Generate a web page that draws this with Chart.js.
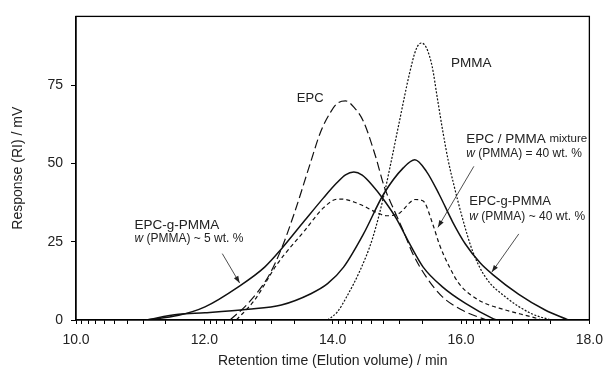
<!DOCTYPE html>
<html>
<head>
<meta charset="utf-8">
<script src="https://cdn.jsdelivr.net/npm/chart.js@4.4.0/dist/chart.umd.min.js"></script>
<style>
body{margin:0;background:#fff;}
#wrap{width:611px;height:370px;}
</style>
</head>
<body>
<div id="wrap"><canvas id="chart" width="611" height="370"></canvas></div>
<script>
// retention time (min) / response (mV)
const pmmaT = [13.92, 14.07, 14.22, 14.43, 14.62, 14.80, 14.92, 15.04, 15.20, 15.30, 15.38, 15.46, 15.55, 15.63, 15.71, 15.80, 15.89, 16.02, 16.18, 16.38, 16.69, 17.10, 17.40];
const pmmaR = [0, 2.5, 7.5, 16, 26, 40, 51.5, 63.5, 79, 86.5, 88.5, 87, 81, 71, 61, 51, 43, 32.7, 22, 13.7, 7.4, 2, 0];

const epcT = [12.40, 12.68, 13.00, 13.20, 13.40, 13.65, 13.81, 13.97, 14.07, 14.20, 14.33, 14.48, 14.66, 14.81, 14.94, 15.10, 15.25, 15.46, 15.71, 16.07, 16.40];
const epcR = [0, 5.3, 14, 22.7, 34, 50, 60, 66.5, 69.2, 70, 68, 63.4, 52.8, 42.2, 35.9, 28.5, 21.1, 13.7, 7.4, 2.6, 0];

const mixT = [12.50, 12.78, 13.14, 13.56, 13.86, 14.07, 14.15, 14.43, 14.69, 14.84, 15.05, 15.20, 15.28, 15.41, 15.56, 15.66, 15.82, 15.97, 16.28, 16.69, 17.10, 17.26];
const mixR = [0, 6.3, 18, 28.5, 35.9, 38.6, 38.6, 36.9, 34.3, 33.3, 34.3, 37.5, 38.5, 38, 30.6, 24.3, 16.9, 11.6, 6.3, 3.2, 1, 0];

const g5T = [11.09, 11.60, 12.01, 12.53, 12.94, 13.20, 13.56, 13.86, 14.05, 14.20, 14.33, 14.46, 14.62, 14.79, 14.99, 15.20, 15.41, 15.71, 16.07, 16.49, 16.55];
const g5R = [0, 1.5, 4.2, 10.6, 16.9, 22.7, 31.7, 39.1, 43.5, 46.4, 47.3, 46.3, 43, 38.6, 32.5, 24.3, 16.9, 10.6, 5.3, 0.5, 0];

const g40T = [11.09, 11.60, 12.01, 12.68, 13.20, 13.66, 13.92, 14.17, 14.48, 14.79, 15.10, 15.28, 15.46, 15.66, 15.87, 16.07, 16.30, 16.49, 16.90, 17.31, 17.67];
const g40R = [0, 1.8, 2.3, 3.4, 4.8, 8.4, 11.6, 16.9, 27.5, 40.1, 48.6, 51.2, 47.5, 40.1, 31.3, 24.2, 18.2, 14.6, 8.2, 3.2, 0];

const xMajor = [10, 12, 14, 16, 18];
const xLabels = ['10.0', '12.0', '14.0', '16.0', '18.0'];
const yTicks = [0, 25, 50, 75];

const FONT = '"Liberation Sans", Arial, sans-serif';
const INK = '#222';

function pts(t, r) {
    return t.map((v, i) => ({x: v, y: r[i]}));
}

function line(t, r, dash, w) {
    return {
        data: pts(t, r),
        borderColor: '#111',
        borderWidth: w,
        borderDash: dash,
        pointRadius: 0,
        fill: false,
        cubicInterpolationMode: 'monotone'
    };
}

// labels in data units; parts = [text, size, italic]
const notes = [
    {x: 13.65, y: 70.7, align: 'center', parts: [['EPC', 13, false]]},
    {x: 16.16, y: 82.1, align: 'center', parts: [['PMMA', 13.5, false]]},
    {x: 16.08, y: 57.8, align: 'left', parts: [['EPC / PMMA ', 13.5, false], ['mixture', 11.5, false]]},
    {x: 16.08, y: 53.2, align: 'left', parts: [['w', 12, true], [' (PMMA) = 40 wt. %', 12, false]]},
    {x: 16.13, y: 38.0, align: 'left', parts: [['EPC-g-PMMA', 13, false]]},
    {x: 16.13, y: 33.0, align: 'left', parts: [['w', 12, true], [' (PMMA) ~ 40 wt. %', 12, false]]},
    {x: 10.91, y: 30.4, align: 'left', parts: [['EPC-g-PMMA', 13.5, false]]},
    {x: 10.91, y: 26.0, align: 'left', parts: [['w', 12, true], [' (PMMA) ~ 5 wt. %', 12, false]]}
];
const arrows = [
    [12.28, 21.2, 12.55, 11.8],
    [16.20, 49.1, 15.64, 29.6],
    [16.90, 27.5, 16.48, 15.3]
];

const notesPlugin = {
    id: 'notes',
    afterDatasetsDraw(c) {
        const ctx = c.ctx, xs = c.scales.x, ys = c.scales.y;
        const a = c.chartArea;
        ctx.save();
        // frame
        ctx.strokeStyle = '#000';
        ctx.lineWidth = 1.3;
        ctx.strokeRect(a.left, a.top, a.right - a.left, a.bottom - a.top);

        ctx.fillStyle = INK;
        ctx.textBaseline = 'middle';
        notes.forEach(n => {
            let w = 0;
            n.parts.forEach(p => {
                ctx.font = (p[2] ? 'italic ' : '') + p[1] + 'px ' + FONT;
                w += ctx.measureText(p[0]).width;
            });
            let px = xs.getPixelForValue(n.x);
            if (n.align === 'center') px -= w / 2;
            const py = ys.getPixelForValue(n.y);
            n.parts.forEach(p => {
                ctx.font = (p[2] ? 'italic ' : '') + p[1] + 'px ' + FONT;
                ctx.textAlign = 'left';
                ctx.fillText(p[0], px, py);
                px += ctx.measureText(p[0]).width;
            });
        });

        ctx.strokeStyle = '#222';
        ctx.lineWidth = 0.8;
        arrows.forEach(ar => {
            const x1 = xs.getPixelForValue(ar[0]), y1 = ys.getPixelForValue(ar[1]);
            const x2 = xs.getPixelForValue(ar[2]), y2 = ys.getPixelForValue(ar[3]);
            const ang = Math.atan2(y2 - y1, x2 - x1);
            ctx.beginPath();
            ctx.moveTo(x1, y1);
            ctx.lineTo(x2, y2);
            ctx.stroke();
            ctx.beginPath();
            ctx.moveTo(x2, y2);
            ctx.lineTo(x2 - 7 * Math.cos(ang) + 2.5 * Math.sin(ang), y2 - 7 * Math.sin(ang) - 2.5 * Math.cos(ang));
            ctx.lineTo(x2 - 7 * Math.cos(ang) - 2.5 * Math.sin(ang), y2 - 7 * Math.sin(ang) + 2.5 * Math.cos(ang));
            ctx.closePath();
            ctx.fill();
        });
        ctx.restore();
    }
};

const chart = document.querySelector('#chart').getContext('2d');

new Chart(chart, {
    type: 'line',
    data: {
        datasets: [
            line(pmmaT, pmmaR, [2, 1.6], 1.2),
            line(epcT, epcR, [9, 4], 1.2),
            line(mixT, mixR, [4, 3], 1.2),
            line(g5T, g5R, [], 1.5),
            line(g40T, g40R, [], 1.5)
        ]
    },
    options: {
        responsive: false,
        animation: false,
        events: [],
        layout: {padding: {left: 0, right: 16, top: 14, bottom: 0}},
        plugins: {legend: {display: false}, tooltip: {enabled: false}},
        scales: {
            x: {
                type: 'linear',
                min: 10,
                max: 18,
                afterFit: s => { s.height = 50; },
                afterBuildTicks: s => {
                    const t = [];
                    xMajor.forEach((m, i) => {
                        t.push({value: m});
                        if (i < xMajor.length - 1) {
                            for (let k = 9; k >= 2; k--) t.push({value: m + 2 * (1 - Math.log10(k))});
                        }
                    });
                    s.ticks = t;
                },
                ticks: {
                    autoSkip: false,
                    maxRotation: 0,
                    padding: 8,
                    color: INK,
                    font: {family: FONT, size: 14},
                    callback: v => {
                        const i = xMajor.findIndex(m => Math.abs(m - v) < 1e-6);
                        return i >= 0 ? xLabels[i] : '';
                    }
                },
                grid: {drawOnChartArea: false, tickLength: 4, color: '#000', tickWidth: 1},
                border: {color: '#000', width: 1.3},
                title: {display: true, text: 'Retention time (Elution volume) / min', color: INK, font: {family: FONT, size: 14}, padding: {top: 0, bottom: 0}}
            },
            y: {
                min: 0,
                max: 97,
                afterFit: s => { s.width = 76; },
                afterBuildTicks: s => { s.ticks = yTicks.map(v => ({value: v})); },
                ticks: {padding: 8, color: INK, font: {family: FONT, size: 14}},
                grid: {drawOnChartArea: false, tickLength: 5, color: '#000'},
                border: {color: '#000', width: 1.3},
                title: {display: true, text: 'Response (RI) / mV', color: INK, font: {family: FONT, size: 14}, padding: {top: 10, bottom: 0}}
            }
        }
    },
    plugins: [notesPlugin]
});
</script>
</body>
</html>
